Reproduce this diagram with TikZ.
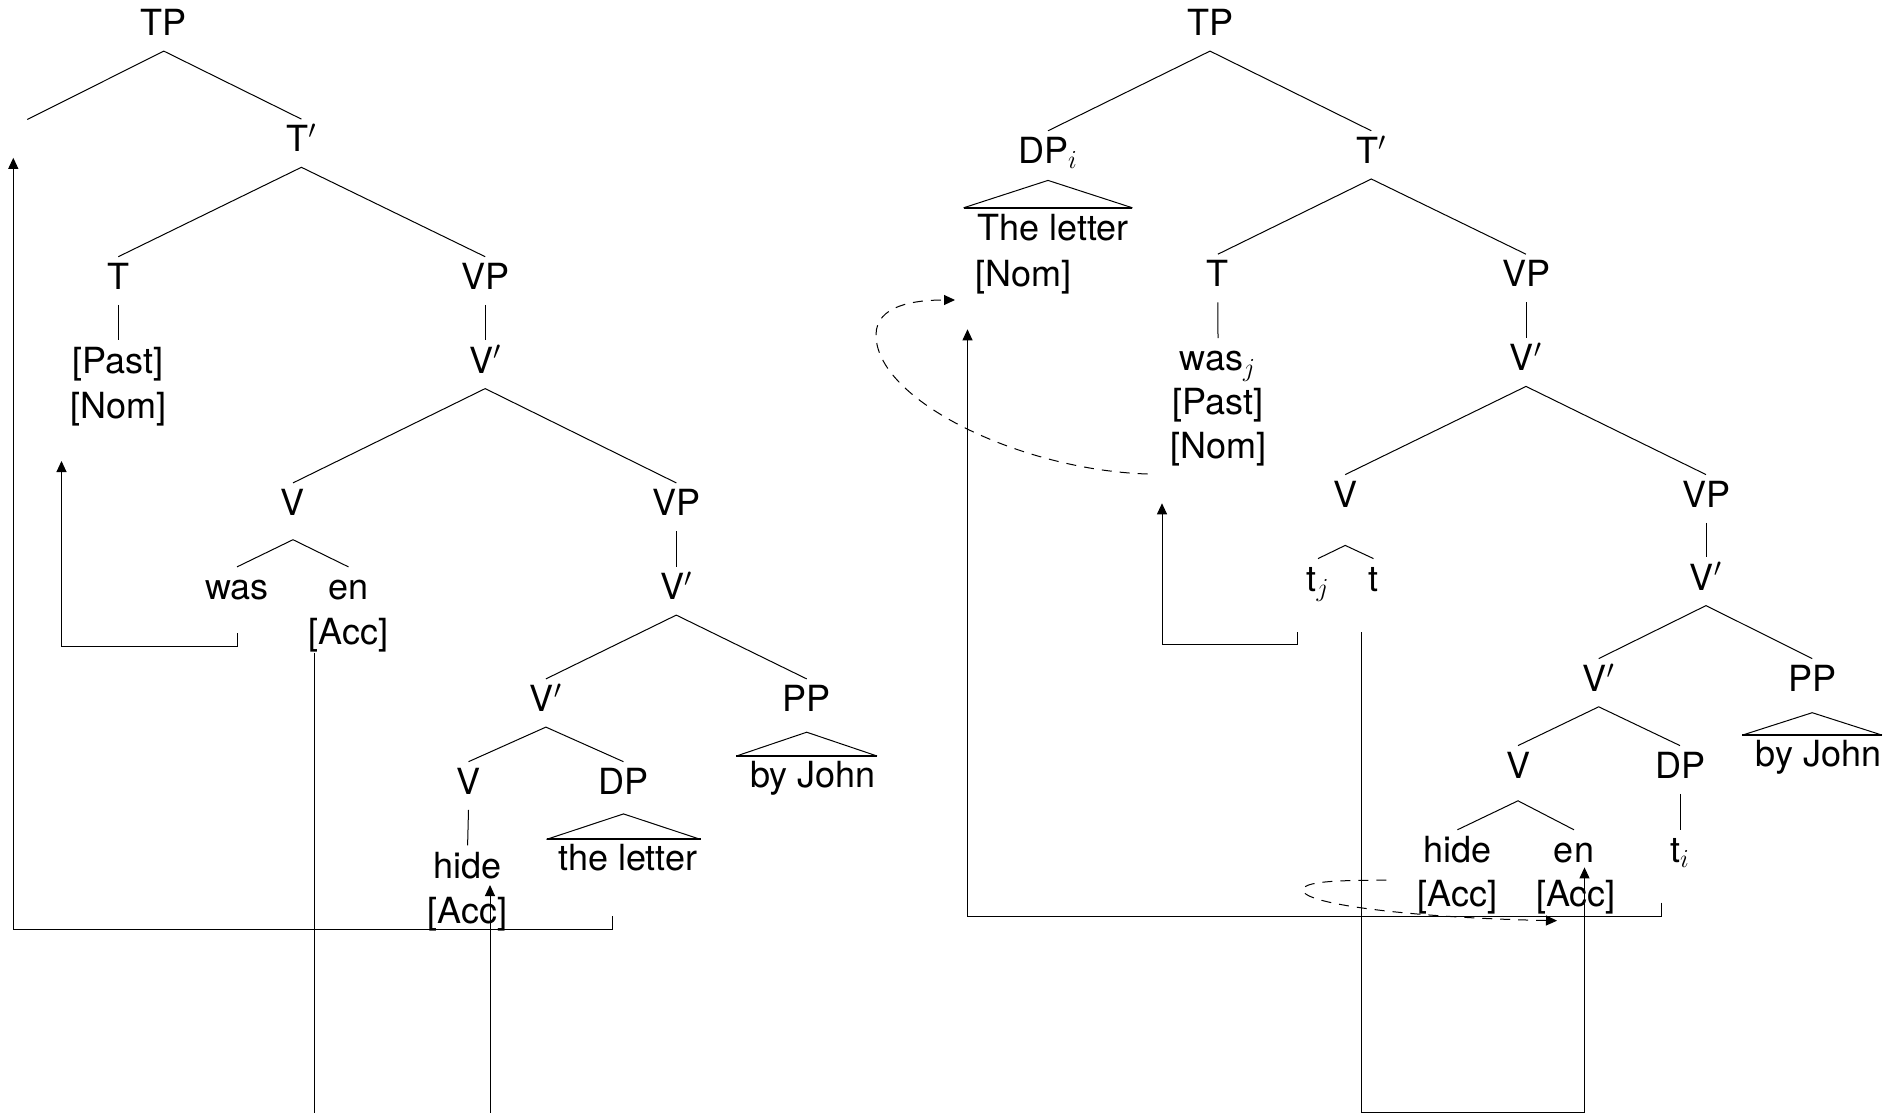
\RequirePackage{fix-cm}
\documentclass[tikz,border=0pt]{standalone}
\usepackage{fontspec}
\setmainfont{TeX Gyre Heros}
\DeclareMathSizes{18}{18}{13}{10}
\usetikzlibrary{arrows.meta}
\begin{document}
\begin{tikzpicture}[x=0.5pt,y=-0.5pt,
  lab/.style={anchor=base, inner xsep=0pt, inner ysep=3.2pt, text height=12.9pt, text depth=4.4pt, font=\fontsize{18pt}{22pt}\selectfont},
  br/.style={line width=0.5pt},
  tribase/.style={line width=1pt},
  mv/.style={line width=0.5pt, -{Triangle[length=5.5pt,width=5pt]}},
  mvline/.style={line width=0.5pt},
  dsh/.style={line width=0.5pt, dash pattern=on 5pt off 4pt, -{Triangle[length=5.5pt,width=5pt]}}]
\useasboundingbox (0,0) rectangle (1902,1113);

% ---------------- left tree ----------------
\node[lab] (lTP) at (163.8,35.5) {TP};
\coordinate (lE) at (27.3,119.5);
\node[lab] (lTb) at (301.4,151.7) {T$'$};
\node[lab] (lT) at (118.3,289.3) {T};
\node[lab] (lVP) at (485.2,289.3) {VP};
\node[lab] (lPast) at (118.3,373) {[Past]};
\node[lab] (lNom) at (118.3,418) {[Nom]};
\node[lab] (lVb) at (485.2,373) {V$'$};
\node[lab] (lV) at (293,515.5) {V};
\node[lab] (lVP2) at (676.3,515.5) {VP};
\node[lab] (lwas) at (237,599.5) {was};
\node[lab] (len) at (348.5,599.5) {en};
\node[lab] (lAcc) at (348.5,644.5) {[Acc]};
\node[lab] (lVb2) at (676.3,599.5) {V$'$};
\node[lab] (lVb3) at (545.9,711.5) {V$'$};
\node[lab] (lPP) at (806.7,711.5) {PP};
\node[lab] (lby) at (812.8,787) {by John};
\node[lab] (lV3) at (468.5,794.3) {V};
\node[lab] (lDP) at (623.5,794.3) {DP};
\node[lab] (lthe) at (627.8,870.4) {the letter};
\node[lab] (lhide) at (467.6,878) {hide};
\node[lab] (lAcc2) at (467.6,923) {[Acc]};

\draw[br] (lE) -- (lTP.south) -- (lTb.north);
\draw[br] (lT.north) -- (lTb.south) -- (lVP.north);
\draw[br] (lT.south) -- (lPast.north);
\draw[br] (lVP.south) -- (lVb.north);
\draw[br] (lV.north) -- (lVb.south) -- (lVP2.north);
\draw[br] (lwas.north) -- ([yshift=-4.3pt]lV.south) -- (len.north);
\draw[br] (lVP2.south) -- (lVb2.north);
\draw[br] (lVb3.north) -- (lVb2.south) -- (lPP.north);
\draw[br] (lV3.north) -- (lVb3.south) -- (lDP.north);
\draw[br] (lV3.south) -- (lhide.north);
% triangles
\draw[br] ([xshift=-38.5pt,yshift=-14.75pt]lDP.south) -- ([yshift=-2pt]lDP.south) -- ([xshift=38.5pt,yshift=-14.75pt]lDP.south);
\draw[tribase] ([xshift=-38.5pt,yshift=-14.75pt]lDP.south) -- ([xshift=38.5pt,yshift=-14.75pt]lDP.south);
\draw[br] ([xshift=-35.15pt,yshift=-14.45pt]lPP.south) -- ([yshift=-2.55pt]lPP.south) -- ([xshift=35.15pt,yshift=-14.45pt]lPP.south);
\draw[tribase] ([xshift=-35.15pt,yshift=-14.45pt]lPP.south) -- ([xshift=35.15pt,yshift=-14.45pt]lPP.south);

% movement lines (left)
\coordinate (lwasEnd) at (61.5,461);
\draw[mv] ([yshift=-9pt]lwas.south) -- ++(0,13) -| (lwasEnd);
\draw[mvline] ([xshift=-17.25pt,yshift=3.8pt]lAcc.south) -- ++(0,461);
\coordinate (lBot2) at (490,1113);
\draw[mv] (lBot2) -- ([xshift=11.2pt,yshift=4.3pt]lhide.south);
\coordinate (lDPEnd) at (13.3,157.8);
\draw[mv] ([xshift=-7.6pt,yshift=-15.1pt]lthe.south) -- ++(0,13.2) -| (lDPEnd);

% ---------------- right tree ----------------
\node[lab] (rTP) at (1210,35.5) {TP};
\node[lab] (rDP) at (1048,163.4) {DP$_i$};
\node[lab] (rTb) at (1371.3,163.4) {T$'$};
\node[lab] (rThe) at (1053,241) {The letter};
\node[lab, anchor=base west] (rNomA) at (975.5,286) {[Nom]};
\node[lab] (rT) at (1217.9,286.8) {T};
\node[lab] (rVP) at (1526,286.8) {VP};
\node[lab] (rwas) at (1218,370.8) {was$_j$};
\node[lab] (rPast) at (1218,414.6) {[Past]};
\node[lab] (rNom) at (1218,458.4) {[Nom]};
\node[lab] (rVb) at (1526,370.8) {V$'$};
\node[lab] (rV) at (1345.2,507.2) {V};
\node[lab] (rVP2) at (1706,507.2) {VP};
\node[lab] (rtj) at (1318,591.2) {t$_j$};
\node[lab] (rt) at (1373.5,591.2) {t};
\node[lab] (rVb2) at (1706,590) {V$'$};
\node[lab] (rVb3) at (1598.7,691.2) {V$'$};
\node[lab] (rPP) at (1812.2,691.2) {PP};
\node[lab] (rby) at (1818.3,766) {by John};
\node[lab] (rV3) at (1518,778.2) {V};
\node[lab] (rDP2) at (1680,778.2) {DP};
\node[lab] (rhide) at (1457.4,862.4) {hide};
\node[lab] (ren) at (1574,862.4) {en};
\node[lab] (rti) at (1680,862.4) {t$_i$};
\node[lab] (rAcc1) at (1457.4,906.5) {[Acc]};
\node[lab] (rAcc2) at (1576,906.5) {[Acc]};

\draw[br] (rDP.north) -- (rTP.south) -- (rTb.north);
\draw[br] (rT.north) -- (rTb.south) -- (rVP.north);
\draw[br] (rT.south) -- (rwas.north);
\draw[br] (rVP.south) -- (rVb.north);
\draw[br] (rV.north) -- (rVb.south) -- (rVP2.north);
\draw[br] (rtj.north) -- ([yshift=-11.3pt]rV.south) -- (rt.north);
\draw[br] (rVP2.south) -- (rVb2.north);
\draw[br] (rVb3.north) -- (rVb2.south) -- (rPP.north);
\draw[br] (rV3.north) -- (rVb3.south) -- (rDP2.north);
\draw[br] (rhide.north) -- ([yshift=-3.5pt]rV3.south) -- (ren.north);
\draw[br] (rDP2.south) -- (rti.north);
% triangles
\draw[br] ([xshift=-42.2pt,yshift=-14.4pt]rDP.south) -- ([yshift=-0.7pt]rDP.south) -- ([xshift=42.2pt,yshift=-14.4pt]rDP.south);
\draw[tribase] ([xshift=-42.2pt,yshift=-14.4pt]rDP.south) -- ([xshift=42.2pt,yshift=-14.4pt]rDP.south);
\draw[br] ([xshift=-34.9pt,yshift=-14.15pt]rPP.south) -- ([yshift=-2.95pt]rPP.south) -- ([xshift=34.9pt,yshift=-14.15pt]rPP.south);
\draw[tribase] ([xshift=-34.9pt,yshift=-14.15pt]rPP.south) -- ([xshift=34.9pt,yshift=-14.15pt]rPP.south);

% movement lines (right)
\coordinate (rtjEnd) at (1162,503.3);
\draw[mv] ([xshift=-10.35pt,yshift=-12.65pt]rtj.south) -- ++(0,12.6) -| (rtjEnd);
\draw[mv] ([xshift=-6.25pt,yshift=-12.65pt]rt.south) -- ++(0,480) -| ([xshift=5.25pt,yshift=5.3pt]ren.south);
\coordinate (rtiEnd) at (967.5,329.3);
\draw[mv] ([xshift=-9.1pt,yshift=-12.35pt]rti.south) -- ++(0,13.5) -| (rtiEnd);
% dashed curves
\coordinate (rNomTip) at (955,300);
\draw[dsh] ([xshift=-11pt]rNom.south west) .. controls (1020,470) and (876,400) .. (876,335) .. controls (876,305) and (915,300) .. (rNomTip);
\coordinate (rAccTip) at (1557,920.7);
\draw[dsh] ([xshift=-15.4pt,yshift=-3.1pt]rAcc1.north west) -- (1357,880.5) .. controls (1310,881) and (1303,886) .. (1303,890) .. controls (1303,905) and (1420,918) .. (rAccTip);
\end{tikzpicture}
\end{document}
